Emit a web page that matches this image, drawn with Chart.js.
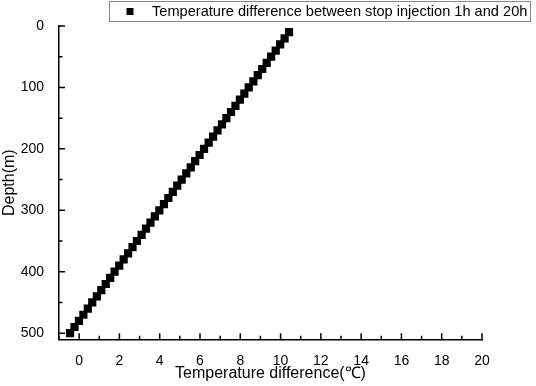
<!DOCTYPE html>
<html>
<head>
<meta charset="utf-8">
<script src="https://cdn.jsdelivr.net/npm/chart.js@4.4.1/dist/chart.umd.min.js"></script>
<style>
  html, body { margin: 0; padding: 0; background: #fff; }
  #wrap { width: 536px; height: 386px; }
</style>
</head>
<body>
<div id="wrap"><canvas id="myChart" width="536" height="386"></canvas></div>
<script>
// depth (m) and temperature difference (°C)
var depths = [10, 20, 30, 40, 50, 60, 70, 80, 90, 100,
  110, 120, 130, 140, 150, 160, 170, 180, 190, 200,
  210, 220, 230, 240, 250, 260, 270, 280, 290, 300,
  310, 320, 330, 340, 350, 360, 370, 380, 390, 400,
  410, 420, 430, 440, 450, 460, 470, 480, 490, 500];
var tempDiff = [10.42, 10.20, 9.98, 9.76, 9.53, 9.31, 9.09, 8.87, 8.65, 8.42,
  8.20, 7.98, 7.76, 7.54, 7.31, 7.09, 6.87, 6.65, 6.43, 6.20,
  5.98, 5.76, 5.54, 5.32, 5.09, 4.87, 4.65, 4.43, 4.21, 3.98,
  3.76, 3.54, 3.32, 3.10, 2.87, 2.65, 2.43, 2.21, 1.99, 1.76,
  1.54, 1.32, 1.10, 0.88, 0.65, 0.43, 0.21, -0.01, -0.23, -0.45];
var xTicks = [0, 2, 4, 6, 8, 10, 12, 14, 16, 18, 20];
var yTicks = [0, 100, 200, 300, 400, 500];
var seriesLabel = "Temperature difference between stop injection 1h and 20h";

var FONT = "'Liberation Sans', Arial, sans-serif";

var points = depths.map(function (d, i) { return { x: tempDiff[i], y: d }; });

// inward major/minor tick marks, like the original plot
var tickMarks = {
  id: "tickMarks",
  afterDraw: function (chart) {
    var ctx = chart.ctx, a = chart.chartArea;
    var xs = chart.scales.x, ys = chart.scales.y;
    ctx.save();
    ctx.strokeStyle = "#000";
    ctx.lineWidth = 1.5;
    ctx.beginPath();
    for (var v = -1; v <= 20; v++) {
      var px = xs.getPixelForValue(v);
      var len = (v % 2 === 0) ? 6 : 3.5;
      ctx.moveTo(px, a.bottom);
      ctx.lineTo(px, a.bottom - len);
    }
    for (var d = 0; d <= 500; d += 50) {
      var py = ys.getPixelForValue(d);
      var l2 = (d % 100 === 0) ? 6 : 3.5;
      ctx.moveTo(a.left, py);
      ctx.lineTo(a.left + l2, py);
    }
    ctx.stroke();
    ctx.restore();
  }
};

// boxed legend at top right
var boxLegend = {
  id: "boxLegend",
  afterDraw: function (chart) {
    var ctx = chart.ctx;
    ctx.save();
    ctx.fillStyle = "#fff";
    ctx.fillRect(109.5, 1.5, 421, 20);
    ctx.strokeStyle = "#888";
    ctx.lineWidth = 1;
    ctx.strokeRect(109.5, 1.5, 421, 20);
    ctx.fillStyle = "#000";
    ctx.fillRect(126.5, 8, 7, 7);
    ctx.font = "14.6px " + FONT;
    ctx.textBaseline = "middle";
    ctx.fillText(chart.data.datasets[0].label, 152, 12);
    ctx.restore();
  }
};

var ctx2 = document.getElementById("myChart").getContext("2d");
var myChart = new Chart(ctx2, {
  type: "scatter",
  data: {
    datasets: [
      {
        label: seriesLabel,
        data: points,
        pointStyle: "rect",
        pointRadius: 5.8,
        pointHoverRadius: 5.8,
        backgroundColor: "#000",
        borderColor: "#000",
        borderWidth: 0,
        showLine: false,
      },
    ],
  },
  options: {
    responsive: false,
    animation: false,
    layout: { padding: { left: 0, top: 26, right: 54, bottom: 0 } },
    plugins: {
      legend: { display: false },
      tooltip: { enabled: false },
    },
    scales: {
      x: {
        type: "linear",
        min: -1,
        max: 20,
        afterBuildTicks: function (s) {
          s.ticks = xTicks.map(function (v) { return { value: v }; });
        },
        afterFit: function (s) { s.height = 46.7; },
        grid: { display: false },
        border: { display: true, color: "#000", width: 1.5 },
        ticks: { color: "#000", font: { family: FONT, size: 14 }, padding: 5, maxRotation: 0, autoSkip: false },
        title: {
          display: true,
          text: "Temperature difference(℃)",
          color: "#000",
          font: { family: FONT, size: 16 },
          padding: { top: 0, bottom: 3 },
        },
      },
      y: {
        type: "linear",
        min: 0,
        max: 510,
        reverse: true,
        afterBuildTicks: function (s) {
          s.ticks = yTicks.map(function (v) { return { value: v }; });
        },
        afterFit: function (s) { s.width = 59; },
        grid: { display: false },
        border: { display: true, color: "#000", width: 1.5 },
        ticks: { color: "#000", font: { family: FONT, size: 14 }, padding: 7, autoSkip: false },
        title: {
          display: true,
          text: "Depth(m)",
          color: "#000",
          font: { family: FONT, size: 16 },
          padding: { top: 0, bottom: 5 },
        },
      },
    },
  },
  plugins: [tickMarks, boxLegend],
});
</script>
</body>
</html>
